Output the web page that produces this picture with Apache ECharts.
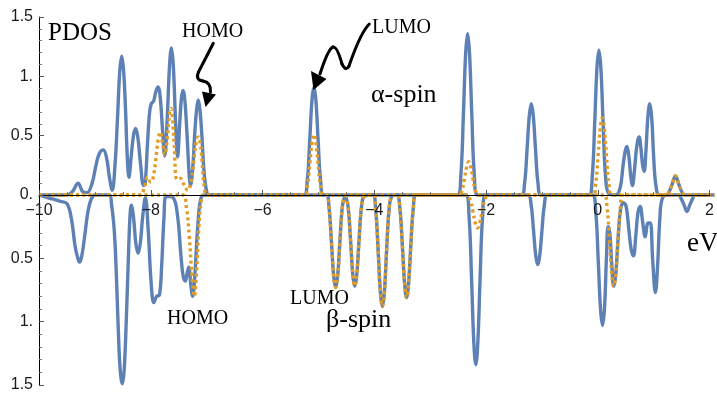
<!DOCTYPE html>
<html>
<head>
<meta charset="utf-8">
<script src="https://cdn.jsdelivr.net/npm/echarts@6/dist/echarts.min.js"></script>
<style>
html,body{margin:0;padding:0;background:#fff;}
#chart{width:717px;height:393px;}
</style>
</head>
<body>
<div id="chart"></div>
<script>
// ---- data (x in eV, y = PDOS) ----
var xTickValues = [-10, -8, -6, -4, -2, 0, 2];
var yTickLabelsTop = ['0.', '0.5', '1.', '1.5'];
var yTickLabelsBottom = ['', '0.5', '1.', '1.5'];

// alpha-spin (upper half), blue solid
var alphaBlue = [
[-10,0],[-9.5,0],[-9.4,0.03],[-9.3,0.1],[-9.22,0.03],[-9.14,0.02],[-9.05,0.1],[-8.98,0.25],[-8.92,0.35],[-8.85,0.38],[-8.79,0.31],[-8.74,0.15],[-8.69,0.04],
[-8.64,0.25],[-8.59,0.7],[-8.555,1.04],[-8.52,1.17],[-8.485,1.04],[-8.45,0.7],[-8.42,0.32],[-8.39,0.15],[-8.355,0.3],[-8.31,0.5],[-8.27,0.56],
[-8.23,0.48],[-8.18,0.25],[-8.13,0.08],[-8.1,0.1],[-8.06,0.42],[-8.02,0.7],[-7.99,0.77],[-7.95,0.79],[-7.91,0.87],[-7.87,0.91],[-7.83,0.82],
[-7.79,0.55],[-7.75,0.33],[-7.71,0.6],[-7.665,1.08],[-7.63,1.24],[-7.595,1.08],[-7.555,0.6],[-7.52,0.32],[-7.48,0.62],[-7.45,0.82],[-7.42,0.88],
[-7.39,0.8],[-7.35,0.5],[-7.31,0.15],[-7.29,0.08],[-7.25,0.22],[-7.215,0.5],[-7.18,0.72],[-7.15,0.8],[-7.12,0.72],[-7.085,0.5],[-7.05,0.22],[-7.0,0.03],[-6.95,0],
[-5.26,0],[-5.2,0.12],[-5.155,0.46],[-5.115,0.8],[-5.08,0.91],[-5.045,0.8],[-5.005,0.46],[-4.96,0.12],[-4.9,0],
[-2.51,0],[-2.45,0.17],[-2.405,0.68],[-2.365,1.19],[-2.33,1.36],[-2.295,1.19],[-2.255,0.68],[-2.21,0.17],[-2.15,0],
[-1.37,0],[-1.31,0.1],[-1.265,0.39],[-1.225,0.67],[-1.19,0.77],[-1.155,0.67],[-1.115,0.39],[-1.07,0.1],[-1.01,0],
[-0.16,0],[-0.1,0.15],[-0.055,0.61],[-0.015,1.07],[0.02,1.22],[0.055,1.07],[0.095,0.61],[0.14,0.15],[0.2,0.01],[0.32,0],
[0.4,0.06],[0.45,0.24],[0.49,0.37],[0.52,0.41],[0.555,0.33],[0.59,0.16],[0.62,0.08],[0.65,0.18],[0.69,0.38],[0.72,0.47],[0.74,0.49],
[0.77,0.4],[0.8,0.26],[0.83,0.2],[0.86,0.36],[0.895,0.65],[0.93,0.77],[0.965,0.65],[1.0,0.32],[1.04,0.08],[1.1,0],
[1.22,0],[1.28,0.03],[1.33,0.09],[1.39,0.16],[1.45,0.09],[1.5,0.03],[1.56,0],[2,0]
];

// alpha-spin (upper half), orange dotted
var alphaOrange = [
[-10,0],[-8.2,0],[-8.12,0.05],[-8.06,0.15],[-8.0,0.11],[-7.96,0.14],[-7.91,0.3],[-7.87,0.46],[-7.83,0.53],[-7.79,0.44],[-7.75,0.34],
[-7.7,0.5],[-7.67,0.66],[-7.64,0.73],[-7.61,0.64],[-7.58,0.42],[-7.53,0.13],[-7.47,0.14],[-7.42,0.1],[-7.34,0.04],[-7.27,0.14],[-7.22,0.33],
[-7.185,0.45],[-7.15,0.49],[-7.115,0.44],[-7.08,0.28],[-7.04,0.07],[-6.98,0],
[-5.25,0],[-5.2,0.07],[-5.155,0.26],[-5.115,0.44],[-5.08,0.51],[-5.045,0.44],[-5.005,0.26],[-4.96,0.07],[-4.91,0],
[-2.48,0],[-2.43,0.04],[-2.385,0.14],[-2.345,0.24],[-2.31,0.28],[-2.275,0.24],[-2.235,0.14],[-2.19,0.04],[-2.14,0],
[-0.09,0],[-0.04,0.08],[0.005,0.33],[0.045,0.57],[0.08,0.65],[0.115,0.57],[0.155,0.33],[0.2,0.08],[0.25,0],
[1.22,0],[1.28,0.03],[1.33,0.09],[1.39,0.16],[1.45,0.09],[1.5,0.03],[1.56,0],[2,0]
];

// beta-spin (lower half, magnitudes), blue solid
var betaBlue = [
[-10,0],[-9.85,0.02],[-9.62,0.05],[-9.5,0.07],[-9.42,0.2],[-9.36,0.4],[-9.31,0.5],[-9.28,0.53],[-9.24,0.48],[-9.19,0.33],[-9.13,0.13],[-9.07,0.03],[-9.0,0],
[-8.76,0],[-8.71,0.08],[-8.66,0.3],[-8.62,0.7],[-8.58,1.2],[-8.55,1.42],[-8.52,1.49],[-8.49,1.4],[-8.46,1.12],[-8.42,0.6],[-8.385,0.18],[-8.36,0.08],
[-8.32,0.18],[-8.28,0.38],[-8.24,0.46],[-8.2,0.38],[-8.16,0.18],[-8.11,0.02],
[-8.06,0.28],[-8.01,0.68],[-7.96,0.85],[-7.91,0.8],[-7.86,0.79],[-7.82,0.55],[-7.78,0.18],[-7.74,0.01],[-7.62,0.02],[-7.54,0.16],[-7.48,0.47],
[-7.44,0.64],[-7.4,0.68],[-7.37,0.62],[-7.34,0.57],[-7.3,0.72],[-7.27,0.8],[-7.23,0.62],[-7.18,0.25],[-7.12,0.02],[-7.04,0],
[-4.9,0],[-4.85,0.09],[-4.805,0.37],[-4.765,0.64],[-4.73,0.73],[-4.695,0.64],[-4.655,0.37],[-4.61,0.09],[-4.56,0.01],
[-4.51,0.09],[-4.465,0.36],[-4.425,0.63],[-4.39,0.72],[-4.355,0.63],[-4.315,0.36],[-4.27,0.09],[-4.22,0.01],
[-4.07,0],[-4.02,0.11],[-3.975,0.44],[-3.935,0.77],[-3.9,0.88],[-3.865,0.77],[-3.825,0.44],[-3.78,0.11],[-3.73,0.01],
[-3.64,0],[-3.59,0.1],[-3.545,0.4],[-3.505,0.7],[-3.47,0.81],[-3.435,0.7],[-3.395,0.4],[-3.35,0.1],[-3.3,0],
[-2.42,0],[-2.36,0.17],[-2.315,0.67],[-2.275,1.17],[-2.24,1.34],[-2.205,1.17],[-2.165,0.67],[-2.12,0.17],[-2.06,0],
[-1.32,0],[-1.26,0.07],[-1.215,0.28],[-1.175,0.48],[-1.14,0.55],[-1.105,0.48],[-1.065,0.28],[-1.02,0.07],[-0.96,0],
[-0.17,0],[-0.11,0.13],[-0.065,0.52],[-0.025,0.9],[0.01,1.03],[0.045,0.9],[0.08,0.5],[0.11,0.25],[0.14,0.3],[0.175,0.55],[0.21,0.72],
[0.245,0.63],[0.285,0.36],[0.33,0.12],[0.38,0.06],[0.43,0.09],[0.48,0.28],[0.52,0.43],[0.56,0.48],[0.6,0.33],[0.64,0.14],[0.68,0.09],
[0.72,0.2],[0.77,0.33],[0.82,0.22],[0.86,0.22],[0.9,0.5],[0.95,0.77],[0.99,0.55],[1.03,0.18],[1.08,0.02],[1.2,0],
[1.36,0],[1.41,0.03],[1.46,0.08],[1.51,0.13],[1.56,0.08],[1.61,0.03],[1.66,0],[2,0]
];

// beta-spin (lower half, magnitudes), orange dotted
var betaOrange = [
[-10,0],[-7.45,0],[-7.38,0.1],[-7.33,0.33],[-7.28,0.65],[-7.24,0.8],[-7.2,0.6],[-7.16,0.25],[-7.12,0.05],[-7.08,0],
[-4.9,0],[-4.85,0.09],[-4.805,0.37],[-4.765,0.64],[-4.73,0.73],[-4.695,0.64],[-4.655,0.37],[-4.61,0.09],[-4.56,0.01],
[-4.51,0.09],[-4.465,0.36],[-4.425,0.63],[-4.39,0.72],[-4.355,0.63],[-4.315,0.36],[-4.27,0.09],[-4.22,0.01],
[-4.07,0],[-4.02,0.11],[-3.975,0.44],[-3.935,0.77],[-3.9,0.88],[-3.865,0.77],[-3.825,0.44],[-3.78,0.11],[-3.73,0.01],
[-3.64,0],[-3.59,0.1],[-3.545,0.4],[-3.505,0.7],[-3.47,0.81],[-3.435,0.7],[-3.395,0.4],[-3.35,0.1],[-3.3,0],
[-2.4,0],[-2.34,0.04],[-2.29,0.13],[-2.25,0.22],[-2.21,0.26],[-2.17,0.22],[-2.13,0.13],[-2.08,0.04],[-2.02,0],
[0.04,0],[0.09,0.09],[0.135,0.36],[0.175,0.63],[0.21,0.72],[0.245,0.63],[0.285,0.36],[0.33,0.09],[0.38,0],[2,0]
];

var BLUE = '#5E81B5', ORANGE = '#E19C24';
var labelFont = '"Liberation Sans", Arial, sans-serif';
var serif = '"Liberation Serif", "Times New Roman", serif';

function yFmt(labels) {
  return function (v) { var i = Math.round(v / 0.5); return labels[i] !== undefined ? labels[i] : ''; };
}

var chart = echarts.init(document.getElementById('chart'), null, {renderer: 'canvas'});
var axisLineStyle = {color: '#000', width: 1};
var arrowStyle = {stroke: '#000', lineWidth: 3, fill: null, lineCap: 'round', lineJoin: 'round'};

function txt(x, y, s, size) {
  return {type: 'text', x: x, y: y, z: 10, style: {text: s, font: size + 'px ' + serif, fill: '#000', verticalAlign: 'middle'}};
}
function seg(x1, y1, x2, y2, c1x, c1y, c2x, c2y) {
  var shape = {x1: x1, y1: y1, x2: x2, y2: y2, cpx1: c1x, cpy1: c1y};
  if (c2x !== undefined) { shape.cpx2 = c2x; shape.cpy2 = c2y; }
  return {type: 'bezierCurve', z: 10, shape: shape, style: arrowStyle};
}

var lineCommon = {type: 'line', showSymbol: false, smooth: 0.4, clip: false};
function mkSeries(data, axis, color, dotted, z) {
  return Object.assign({}, lineCommon, {
    xAxisIndex: axis, yAxisIndex: axis, data: data, z: z,
    lineStyle: dotted ? {color: color, width: 3.4, type: [3, 3.2]} : {color: color, width: 3.4}
  });
}

var option = {
  animation: false,
  backgroundColor: '#fff',
  grid: [
    {left: 39, right: 2.5, top: 17, height: 178},
    {left: 39, right: 2.5, top: 195, height: 192}
  ],
  xAxis: [
    {
      gridIndex: 0, type: 'value', min: -10, max: 2, interval: 2, z: 5,
      axisLine: {show: true, onZero: false, lineStyle: axisLineStyle},
      axisTick: {show: true, inside: true, length: 5, lineStyle: {color: '#555'}},
      minorTick: {show: true, splitNumber: 4, length: 3, lineStyle: {color: '#777'}},
      splitLine: {show: false},
      axisLabel: {
        margin: 8, fontSize: 16, fontFamily: labelFont, color: '#1a1a1a',
        formatter: function (v) { return xTickValues.indexOf(v) >= 0 ? String(v).replace('-', '\u2212') : ''; }
      }
    },
    {gridIndex: 1, type: 'value', min: -10, max: 2, show: false}
  ],
  yAxis: [
    {
      gridIndex: 0, type: 'value', min: 0, max: 1.5, interval: 0.5, z: 5,
      axisLine: {show: true, onZero: false, lineStyle: axisLineStyle},
      axisTick: {show: true, inside: true, length: 5, lineStyle: {color: '#555'}},
      minorTick: {show: true, splitNumber: 5, length: 3, lineStyle: {color: '#777'}},
      splitLine: {show: false},
      axisLabel: {margin: 6, fontSize: 16, fontFamily: labelFont, color: '#1a1a1a', formatter: yFmt(yTickLabelsTop)}
    },
    {
      gridIndex: 1, type: 'value', min: 0, max: 1.5, interval: 0.5, inverse: true, z: 5,
      axisLine: {show: true, onZero: false, lineStyle: axisLineStyle},
      axisTick: {show: true, inside: true, length: 5, lineStyle: {color: '#555'}},
      minorTick: {show: true, splitNumber: 5, length: 3, lineStyle: {color: '#777'}},
      splitLine: {show: false},
      axisLabel: {margin: 6, fontSize: 16, fontFamily: labelFont, color: '#1a1a1a', formatter: yFmt(yTickLabelsBottom)}
    }
  ],
  series: [
    mkSeries(alphaBlue, 0, BLUE, false, 3),
    mkSeries(betaBlue, 1, BLUE, false, 3),
    mkSeries(alphaOrange, 0, ORANGE, true, 4),
    mkSeries(betaOrange, 1, ORANGE, true, 4)
  ],
  graphic: [
    txt(48, 33, 'PDOS', 25),
    txt(182, 31.5, 'HOMO', 20),
    txt(372, 27.5, 'LUMO', 20),
    txt(371, 95, '\u03b1-spin', 26),
    txt(167, 318.5, 'HOMO', 20),
    txt(290, 298.5, 'LUMO', 20),
    txt(326, 320, '\u03b2-spin', 26),
    txt(687, 244, 'eV', 27),
    // HOMO arrow
    seg(213.3, 43.3, 198.5, 72, 206, 57.6, 206, 57.6),
    seg(198.5, 72, 203, 81, 195, 80),
    seg(203, 81, 210.5, 92, 211, 82),
    {type: 'polygon', z: 10, shape: {points: [[202, 91.5], [216, 94.5], [205.5, 107]]}, style: {fill: '#000'}},
    // LUMO arrow
    seg(369.3, 24, 349, 66, 360, 33, 353, 55),
    seg(349, 66, 342, 64, 346, 72),
    seg(342, 64, 333, 47, 337, 46),
    seg(333, 47, 320, 74, 328, 49),
    {type: 'polygon', z: 10, shape: {points: [[311, 71], [326.5, 79], [313.5, 90]]}, style: {fill: '#000'}}
  ]
};
chart.setOption(option);
</script>
</body>
</html>
